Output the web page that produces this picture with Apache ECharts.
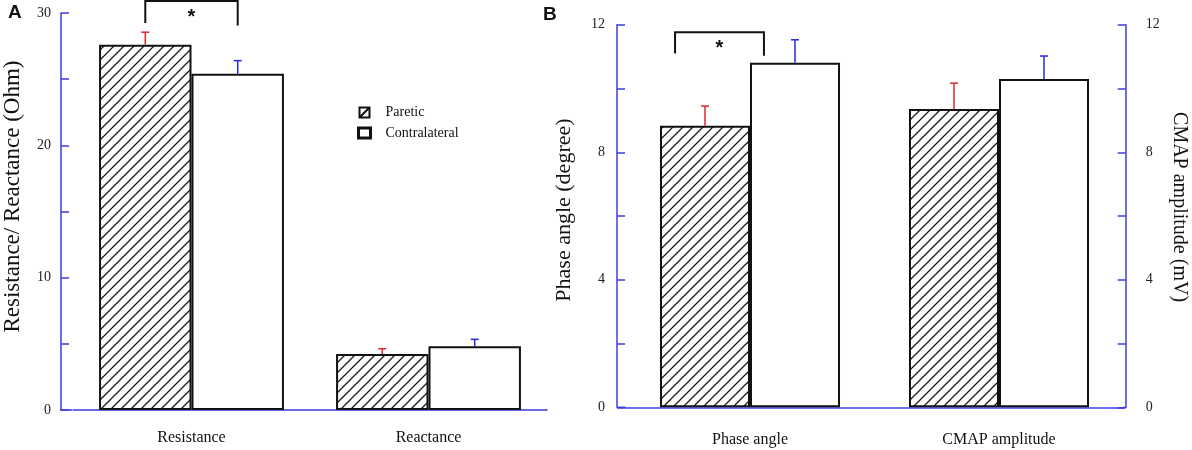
<!DOCTYPE html>
<html><head><meta charset="utf-8">
<script src="https://cdn.jsdelivr.net/npm/echarts@6/dist/echarts.min.js"></script>
<style>html,body{margin:0;padding:0;background:#fff}#c{width:1192px;height:450px}</style>
</head><body><div id="c"></div>
<script>
// ---------- data ----------
const catsA = ['Resistance', 'Reactance'];
const pareticA = [27.6, 4.23];
const pareticAErr = [0.95, 0.40];
const contraA = [25.4, 4.81];
const contraAErr = [1.0, 0.53];

const catsB = ['Phase angle', 'CMAP amplitude'];
const pareticB = [8.83, 9.36];
const pareticBErr = [0.62, 0.81];
const contraB = [10.81, 10.30];
const contraBErr = [0.72, 0.72];

const ticksA = [0, 10, 20, 30];
const ticksB = [0, 4, 8, 12];
// significance brackets: [category, top, left leg end, right leg end]
const bracketA = [0, 30.9, 29.25, 29.05];
const bracketB = [0, 11.77, 11.10, 11.03];

// ---------- styles ----------
const SERIF = 'Liberation Serif';
const AXIS_BLUE = '#3c3ce0';
const GA = {left: 72, top: 13, width: 475, height: 397, yOff: 12};
const GB = {left: 625.5, top: 24.8, width: 498, height: 382.5, yOff: 8.5, yOffR: 2.2};

function hatchCanvas() {
  const T = 10, cv = document.createElement('canvas');
  cv.width = T; cv.height = T;
  const g = cv.getContext('2d');
  g.fillStyle = '#fff'; g.fillRect(0, 0, T, T);
  g.strokeStyle = '#1a1a1a'; g.lineWidth = 1.3;
  g.beginPath();
  g.moveTo(0, T); g.lineTo(T, 0);
  g.moveTo(-2, 2); g.lineTo(2, -2);
  g.moveTo(T - 2, T + 2); g.lineTo(T + 2, T - 2);
  g.stroke();
  return cv;
}
const HATCH = {image: hatchCanvas(), repeat: 'repeat'};

function errRender(frac, color) {
  return function (params, api) {
    const c = api.value(0), v = api.value(1), e = api.value(2);
    const band = api.size([1, 0])[0];
    const p0 = api.coord([c, v]), p1 = api.coord([c, v + e]);
    const x = p0[0] + frac * band;
    return {type: 'group', children: [
      {type: 'line', shape: {x1: x, y1: p0[1], x2: x, y2: p1[1]}, style: {stroke: color, lineWidth: 1.5}},
      {type: 'line', shape: {x1: x - 4, y1: p1[1], x2: x + 4, y2: p1[1]}, style: {stroke: color, lineWidth: 1.5}}
    ]};
  };
}
function bracketRender(fl, fr) {
  return function (params, api) {
    const c = api.value(0), top = api.value(1), lb = api.value(2), rb = api.value(3);
    const band = api.size([1, 0])[0];
    const pt = api.coord([c, top]);
    const xl = pt[0] + fl * band, xr = pt[0] + fr * band;
    const yl = api.coord([c, lb])[1], yr = api.coord([c, rb])[1];
    return {type: 'group', children: [
      {type: 'polyline', shape: {points: [[xl, yl], [xl, pt[1]], [xr, pt[1]], [xr, yr]]},
        style: {stroke: '#111', lineWidth: 2, fill: null}},
      {type: 'text', style: {text: '*', x: (xl + xr) / 2, y: pt[1] + 16, align: 'center', verticalAlign: 'middle',
        font: 'bold 20px "Liberation Sans"', fill: '#111'}}
    ]};
  };
}

function valueAxis(gridIdx, max, interval, labels, name, margin, fontSize, pad, opts) {
  return Object.assign({
    type: 'value', gridIndex: gridIdx, min: 0, max: max, interval: interval,
    axisLine: {show: true, lineStyle: {color: AXIS_BLUE, width: 1.5}},
    axisTick: {show: true, inside: true, length: 8, lineStyle: {color: AXIS_BLUE, width: 1.5}},
    splitLine: {show: false},
    axisLabel: {fontFamily: SERIF, fontSize: 14, color: '#222', margin: margin,
      formatter: v => labels.indexOf(v) >= 0 ? String(v) : ''},
    name: name, nameLocation: 'middle',
    nameTextStyle: {fontFamily: SERIF, fontSize: fontSize, color: '#111', padding: pad}
  }, opts);
}
function catAxis(gridIdx, data, margin) {
  return {
    type: 'category', gridIndex: gridIdx, data: data,
    axisLine: {show: true, lineStyle: {color: AXIS_BLUE, width: 1.5}},
    axisTick: {show: false},
    axisLabel: {fontFamily: SERIF, fontSize: 16, color: '#111', margin: margin}
  };
}

const barBorder = {borderColor: '#111', borderWidth: 2};
const FA = 0.195, FB = 0.1807;

const option = {
  backgroundColor: '#fff',
  animation: false,
  grid: [
    {left: GA.left, top: GA.top, width: GA.width, height: GA.height},
    {left: GB.left, top: GB.top, width: GB.width, height: GB.height}
  ],
  xAxis: [catAxis(0, catsA, 20), catAxis(1, catsB, 24)],
  yAxis: [
    valueAxis(0, 30, 5, ticksA, 'Resistance/ Reactance (Ohm)', 10, 23, [0, 0, 0, 30],
      {offset: GA.yOff, nameGap: 37}),
    valueAxis(1, 12, 2, ticksB, 'Phase angle (degree)', 12, 22, [0, 0, 0, 12],
      {offset: GB.yOff, nameGap: 42}),
    valueAxis(1, 12, 2, ticksB, 'CMAP amplitude (mV)', 20, 20, [0, 18, 0, 0],
      {position: 'right', offset: GB.yOffR, nameGap: 44, nameRotate: -90})
  ],
  legend: {
    left: 352, top: 100.5, orient: 'vertical', itemWidth: 12, itemHeight: 10, itemGap: 6.5,
    selectedMode: false,
    textStyle: {fontFamily: SERIF, fontSize: 14, color: '#111', padding: [0, 0, 0, 10]},
    data: [
      {name: 'Paretic', icon: 'path://M0,0L10,0L10,10L0,10Z M0,10L10,0',
        itemStyle: {color: '#fff', borderColor: '#111', borderWidth: 2}},
      {name: 'Contralateral', icon: 'rect',
        itemStyle: {color: '#fff', borderColor: '#111', borderWidth: 3}}
    ]
  },
  graphic: [
    {type: 'text', left: 8, top: 3, style: {text: 'A', font: 'bold 19px "Liberation Sans"', fill: '#111'}},
    {type: 'text', left: 543, top: 5, style: {text: 'B', font: 'bold 19px "Liberation Sans"', fill: '#111'}},
    {type: 'line', shape: {x1: GA.left - GA.yOff, y1: GA.top + GA.height, x2: GA.left, y2: GA.top + GA.height},
      style: {stroke: AXIS_BLUE, lineWidth: 1.5}},
    {type: 'line', shape: {x1: GB.left - GB.yOff, y1: GB.top + GB.height, x2: GB.left, y2: GB.top + GB.height},
      style: {stroke: AXIS_BLUE, lineWidth: 1.5}},
    {type: 'line', shape: {x1: GB.left + GB.width, y1: GB.top + GB.height, x2: GB.left + GB.width + GB.yOffR, y2: GB.top + GB.height},
      style: {stroke: AXIS_BLUE, lineWidth: 1.5}}
  ],
  series: [
    // Panel A
    {type: 'bar', name: 'Paretic', xAxisIndex: 0, yAxisIndex: 0, data: pareticA,
      barGap: '0%', barCategoryGap: '22%', itemStyle: Object.assign({color: HATCH}, barBorder)},
    {type: 'bar', name: 'Contralateral', xAxisIndex: 0, yAxisIndex: 0, data: contraA,
      itemStyle: Object.assign({color: '#fff'}, barBorder)},
    {type: 'custom', xAxisIndex: 0, yAxisIndex: 0, z: 5, clip: false,
      data: pareticA.map((v, i) => [i, v, pareticAErr[i]]), encode: {x: 0, y: 1},
      renderItem: errRender(-FA, '#e02828')},
    {type: 'custom', xAxisIndex: 0, yAxisIndex: 0, z: 5, clip: false,
      data: contraA.map((v, i) => [i, v, contraAErr[i]]), encode: {x: 0, y: 1},
      renderItem: errRender(FA, '#2828e0')},
    {type: 'custom', xAxisIndex: 0, yAxisIndex: 0, z: 5, clip: false,
      data: [bracketA], encode: {x: 0, y: [1, 2, 3]},
      renderItem: bracketRender(-FA, FA)},
    // Panel B (Phase angle on left axis, CMAP amplitude on right axis)
    {type: 'bar', name: 'Paretic', xAxisIndex: 1, yAxisIndex: 1, stack: 'pB',
      data: [pareticB[0], '-'], barGap: '0%', barCategoryGap: '27.7%',
      itemStyle: Object.assign({color: HATCH}, barBorder)},
    {type: 'bar', name: 'Paretic', xAxisIndex: 1, yAxisIndex: 2, stack: 'pB',
      data: ['-', pareticB[1]], itemStyle: Object.assign({color: HATCH}, barBorder)},
    {type: 'bar', name: 'Contralateral', xAxisIndex: 1, yAxisIndex: 1, stack: 'cB',
      data: [contraB[0], '-'], itemStyle: Object.assign({color: '#fff'}, barBorder)},
    {type: 'bar', name: 'Contralateral', xAxisIndex: 1, yAxisIndex: 2, stack: 'cB',
      data: ['-', contraB[1]], itemStyle: Object.assign({color: '#fff'}, barBorder)},
    {type: 'custom', xAxisIndex: 1, yAxisIndex: 1, z: 5, clip: false,
      data: [[0, pareticB[0], pareticBErr[0]]], encode: {x: 0, y: 1},
      renderItem: errRender(-FB, '#e02828')},
    {type: 'custom', xAxisIndex: 1, yAxisIndex: 2, z: 5, clip: false,
      data: [[1, pareticB[1], pareticBErr[1]]], encode: {x: 0, y: 1},
      renderItem: errRender(-FB, '#e02828')},
    {type: 'custom', xAxisIndex: 1, yAxisIndex: 1, z: 5, clip: false,
      data: [[0, contraB[0], contraBErr[0]]], encode: {x: 0, y: 1},
      renderItem: errRender(FB, '#2828e0')},
    {type: 'custom', xAxisIndex: 1, yAxisIndex: 2, z: 5, clip: false,
      data: [[1, contraB[1], contraBErr[1]]], encode: {x: 0, y: 1},
      renderItem: errRender(FB, '#2828e0')},
    {type: 'custom', xAxisIndex: 1, yAxisIndex: 1, z: 5, clip: false,
      data: [bracketB], encode: {x: 0, y: [1, 2, 3]},
      renderItem: bracketRender(-0.301, 0.056)}
  ]
};
const chart = echarts.init(document.getElementById('c'), null, {renderer: 'canvas'});
chart.setOption(option);
</script>
</body></html>
